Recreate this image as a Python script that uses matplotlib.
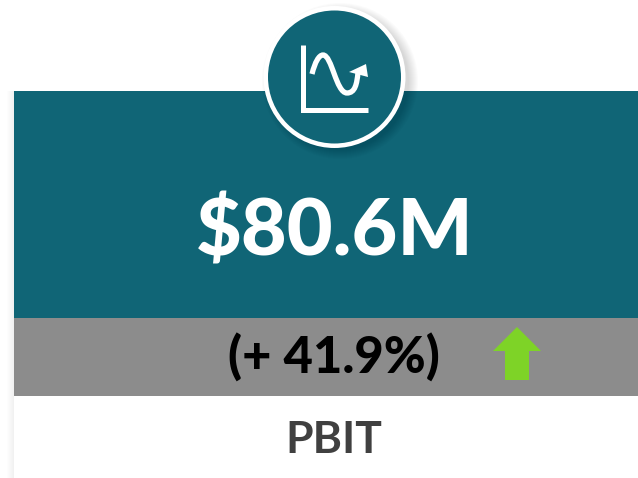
import matplotlib
matplotlib.use("Agg")
import matplotlib.pyplot as plt
from matplotlib.patches import Rectangle, Circle, Polygon, PathPatch
from matplotlib.path import Path

# KPI card values
kpi_value = "$80.6M"
kpi_change = "(+ 41.9%)"
kpi_name = "PBIT"

teal = "#106576"
grey = "#8c8c8c"
green = "#7ed327"

plt.rcParams['font.family'] = ['Lato', 'DejaVu Sans']

fig = plt.figure(figsize=(6.38, 4.78), dpi=100)
ax = fig.add_axes([0, 0, 1, 1])
# axes in pixels, y going down
ax.set_xlim(0, 638)
ax.set_ylim(478, 0)
ax.axis('off')

# soft shadow left of the card
for i in range(8):
    ax.add_patch(Rectangle((14 - i, 91), i, 387, fc='black', alpha=0.008, lw=0))

# card bands
ax.add_patch(Rectangle((14, 91), 624, 227, fc=teal, lw=0))
ax.add_patch(Rectangle((14, 318), 624, 78, fc=grey, lw=0))

# shadow under the circle
for r in range(78, 68, -1):
    ax.add_patch(Circle((340, 81), r, fc='black', alpha=0.014, lw=0))
ax.add_patch(Circle((334.5, 77), 71, fc='white', lw=0))
ax.add_patch(Circle((334.5, 77), 66.5, fc=teal, lw=0))

# icon: axes
ax.plot([302.5, 302.5, 368], [45, 109.5, 109.5], color='white', lw=3.6,
        solid_joinstyle='miter', solid_capstyle='butt')
# icon: wave
verts = [(312, 74), (315, 62), (319, 55), (323, 55),
         (332, 55), (336, 93), (347, 93),
         (355, 93), (357, 84), (358, 72)]
codes = [Path.MOVETO] + [Path.CURVE4] * 9
ax.add_patch(PathPatch(Path(verts, codes), fc='none', ec='white', lw=3.8, capstyle='butt'))
ax.add_patch(Polygon([(366, 64), (349, 72), (368, 77)], fc='white', lw=0))

# texts
ax.text(335, 232, kpi_value, color='white', fontsize=57, fontweight=900, ha='center', va='center')
ax.text(334, 358, kpi_change, color='black', fontsize=36.5, fontweight=900, ha='center', va='center')
ax.text(334, 440, kpi_name, color='#404040', fontsize=32, fontweight='bold', ha='center', va='center')

# up arrow
ax.add_patch(Polygon([(517, 327), (541, 351), (529, 351), (529, 380), (505, 380), (505, 351), (493, 351)],
                     fc=green, lw=0))

fig.savefig("out.png", dpi=100)
